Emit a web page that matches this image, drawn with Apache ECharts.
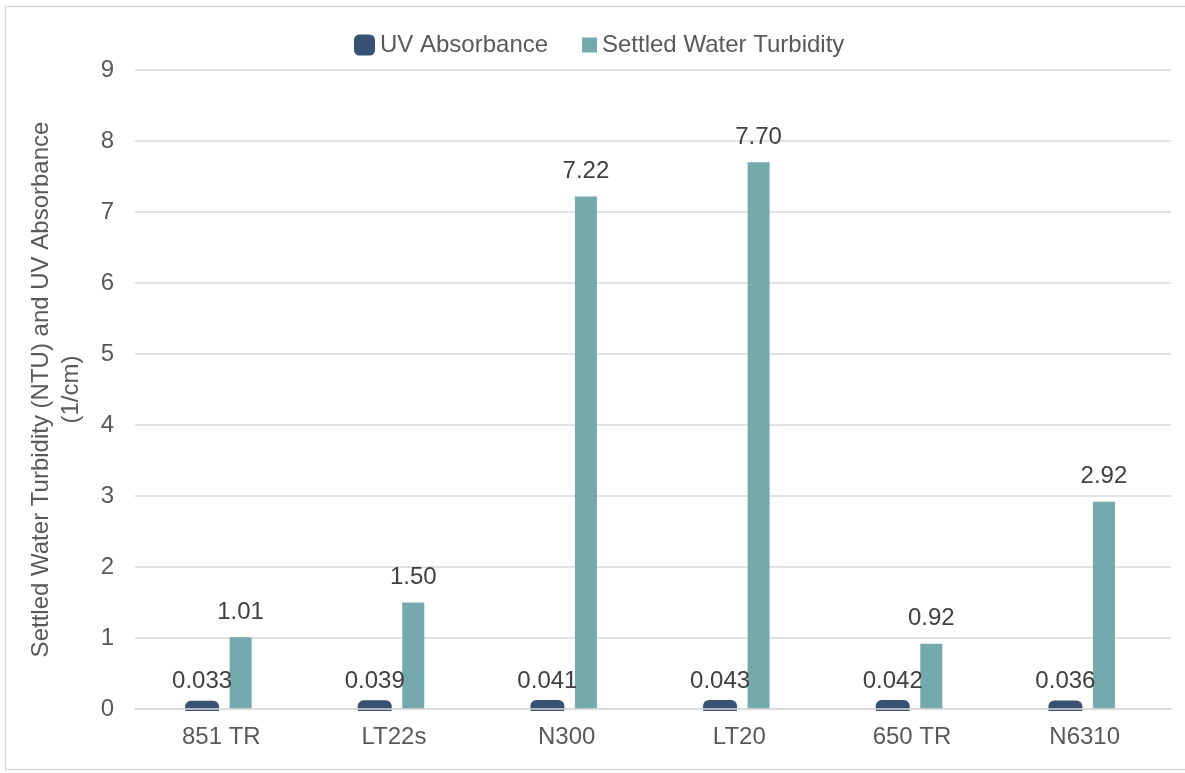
<!DOCTYPE html>
<html>
<head>
<meta charset="utf-8">
<script src="https://cdn.jsdelivr.net/npm/echarts@6/dist/echarts.min.js"></script>
<style>
  html, body { margin: 0; padding: 0; background: #ffffff; }
  #chart { width: 1185px; height: 773px; }
</style>
</head>
<body>
<div id="chart"></div>
<script>
// Coagulant products tested
const categories = ['851 TR', 'LT22s', 'N300', 'LT20', '650 TR', 'N6310'];
// UV absorbance (1/cm)
const uvAbsorbance = [0.033, 0.039, 0.041, 0.043, 0.042, 0.036];
// Settled water turbidity (NTU)
const settledTurbidity = [1.01, 1.50, 7.22, 7.70, 0.92, 2.92];
// Value axis ticks
const yTicks = [0, 1, 2, 3, 4, 5, 6, 7, 8, 9];

const FONT = "'Liberation Sans', Arial, sans-serif";
const TEXT = '#595959';
const LABEL = '#404040';
const DARK = '#375272';
const TEAL = '#74a9ad';
const GRID = '#d9d9d9';
const FS = 24;

// Bar geometry as fractions of one category band
const BAR_FRAC = 22 / 172.5;
const SHIFT_FRAC = 19.25 / 172.5;

// Clustered bar drawn through the axes' scales; side = -1 (left) or +1 (right)
function clusteredBar(side, color, outline, digits, labelGap) {
  return function (params, api) {
    const idx = api.value(0);
    const val = api.value(1);
    const top = api.coord([idx, val]);
    const base = api.coord([idx, 0]);
    const band = api.size([1, 0])[0];
    const w = band * BAR_FRAC;
    const cx = top[0] + side * band * SHIFT_FRAC;
    const rect = {
      type: 'rect',
      shape: { x: cx - w / 2, y: top[1], width: w, height: base[1] - top[1] },
      style: outline
        ? { fill: color, stroke: color, lineWidth: outline, lineJoin: 'round' }
        : { fill: color }
    };
    if (outline) {
      // keep the thick outline from spilling far below the category axis
      rect.clipPath = {
        type: 'rect',
        shape: { x: cx - w, y: top[1] - outline * 3, width: w * 2, height: base[1] - top[1] + outline * 3 + 2 }
      };
    }
    const label = {
      type: 'text',
      x: cx,
      y: top[1] - labelGap,
      style: {
        text: val.toFixed(digits),
        fill: LABEL,
        fontSize: FS,
        fontFamily: FONT,
        align: 'center',
        verticalAlign: 'bottom'
      }
    };
    return { type: 'group', children: [rect, label] };
  };
}

const chart = echarts.init(document.getElementById('chart'), null, { renderer: 'canvas' });

const legendText = { color: TEXT, fontSize: FS, fontFamily: FONT };

chart.setOption({
  animation: false,
  backgroundColor: '#ffffff',
  textStyle: { fontFamily: FONT },
  graphic: [{
    type: 'rect',
    silent: true,
    shape: { x: 5.5, y: 6.5, width: 1190, height: 763 },
    style: { fill: 'none', stroke: GRID, lineWidth: 1.5 }
  }],
  legend: [{
    data: [{ name: 'UV Absorbance', icon: 'roundRect', itemStyle: { color: DARK } }],
    left: 349,
    top: 28,
    itemWidth: 21,
    itemHeight: 21,
    textStyle: legendText
  }, {
    data: [{ name: 'Settled Water Turbidity', icon: 'rect', itemStyle: { color: TEAL } }],
    left: 577,
    top: 28,
    itemWidth: 15,
    itemHeight: 15,
    textStyle: legendText
  }],
  grid: { left: 135, right: 14, top: 70, bottom: 64 },
  xAxis: {
    type: 'category',
    data: categories,
    z: 5,
    axisLine: { show: true, lineStyle: { color: GRID, width: 1.5 } },
    axisTick: { show: false },
    axisLabel: { color: TEXT, fontSize: FS, fontFamily: FONT, margin: 16 }
  },
  yAxis: {
    type: 'value',
    min: yTicks[0],
    max: yTicks[yTicks.length - 1],
    interval: 1,
    name: 'Settled Water Turbidity (NTU) and UV Absorbance\n(1/cm)',
    nameLocation: 'middle',
    nameGap: 49,
    nameRotate: 90,
    nameTextStyle: { color: TEXT, fontSize: FS, fontFamily: FONT, lineHeight: 30, align: 'center' },
    axisLine: { show: false },
    axisTick: { show: false },
    axisLabel: { color: TEXT, fontSize: FS, fontFamily: FONT, margin: 21 },
    splitLine: { lineStyle: { color: GRID, width: 1.5 } }
  },
  series: [{
    name: 'UV Absorbance',
    type: 'custom',
    data: uvAbsorbance.map((v, i) => [i, v]),
    encode: { x: 0, y: 1 },
    itemStyle: { color: DARK },
    z: 3,
    renderItem: clusteredBar(-1, DARK, 12, 3, 13)
  }, {
    name: 'Settled Water Turbidity',
    type: 'custom',
    data: settledTurbidity.map((v, i) => [i, v]),
    encode: { x: 0, y: 1 },
    itemStyle: { color: TEAL },
    z: 2,
    renderItem: clusteredBar(1, TEAL, 0, 2, 13)
  }]
});
</script>
</body>
</html>
